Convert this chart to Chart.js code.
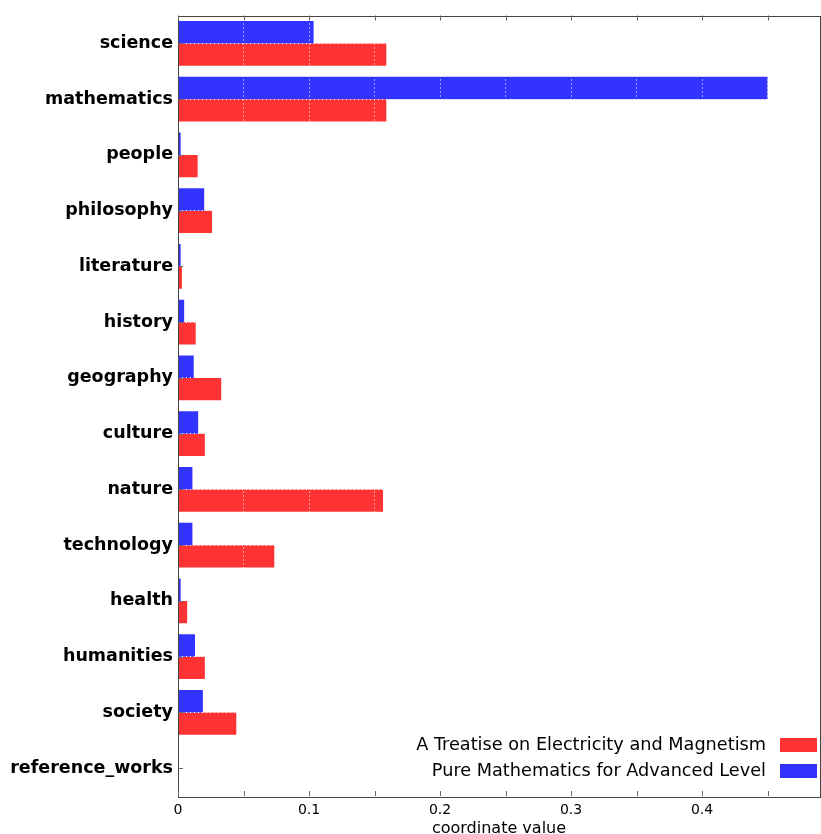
<!DOCTYPE html>
<html>
<head>
<meta charset="utf-8">
<script src="https://cdn.jsdelivr.net/npm/chart.js@4/dist/chart.umd.min.js"></script>
<style>
  html, body { margin: 0; padding: 0; background: #fff; }
  #wrap { width: 821px; height: 834px; }
</style>
</head>
<body>
<div id="wrap"><canvas id="topicChart"></canvas></div>
<script>
// Categories (top to bottom)
const categories = [
  "science", "mathematics", "people", "philosophy", "literature", "history",
  "geography", "culture", "nature", "technology", "health", "humanities",
  "society", "reference_works"
];

// A Treatise on Electricity and Magnetism
const treatiseValues = [
  0.159, 0.159, 0.015, 0.026, 0.003, 0.0135,
  0.033, 0.0205, 0.1565, 0.0735, 0.007, 0.0205,
  0.0445, 0
];

// Pure Mathematics for Advanced Level
const pureMathValues = [
  0.1035, 0.45, 0.002, 0.02, 0.002, 0.0047,
  0.012, 0.0154, 0.011, 0.011, 0.002, 0.013,
  0.019, 0
];

// x axis
const xMin = 0;
const xMax = 0.49;
const xStep = 0.05;

const redColor = "#ff3333";
const blueColor = "#3333ff";

// Frame, inward ticks and the legend in the lower right corner
const framePlugin = {
  id: "frame",
  afterDraw(chart) {
    const ctx = chart.ctx;
    const area = chart.chartArea;
    const x = chart.scales.x;
    const y = chart.scales.y;
    ctx.save();
    ctx.strokeStyle = "#444";
    ctx.lineWidth = 1;
    ctx.strokeRect(Math.round(area.left) + 0.5, Math.round(area.top) + 0.5,
      Math.round(area.right - area.left), Math.round(area.bottom - area.top));

    // ticks
    ctx.strokeStyle = "#666";
    ctx.beginPath();
    x.ticks.forEach(t => {
      const px = Math.round(x.getPixelForValue(t.value)) + 0.5;
      ctx.moveTo(px, area.bottom);
      ctx.lineTo(px, area.bottom - 5);
      ctx.moveTo(px, area.top);
      ctx.lineTo(px, area.top + 5);
    });
    categories.forEach((c, i) => {
      const py = Math.round(y.getPixelForValue(i)) + 0.5;
      ctx.moveTo(area.left, py);
      ctx.lineTo(area.left + 5, py);
    });
    ctx.stroke();

    // legend
    const items = [
      { text: chart.data.datasets[1].label, color: chart.data.datasets[1].backgroundColor },
      { text: chart.data.datasets[0].label, color: chart.data.datasets[0].backgroundColor }
    ];
    ctx.font = "17.7px 'DejaVu Sans'";
    ctx.textAlign = "right";
    ctx.textBaseline = "middle";
    items.forEach((it, i) => {
      const cy = area.bottom - 51 + i * 26;
      const boxRight = area.right - 3;
      ctx.fillStyle = it.color;
      ctx.fillRect(boxRight - 37, cy - 7, 37, 14);
      ctx.fillStyle = "#000";
      ctx.fillText(it.text, boxRight - 37 - 14, cy);
    });
    ctx.restore();
  }
};

new Chart(document.getElementById("topicChart"), {
  type: "bar",
  data: {
    labels: categories,
    datasets: [
      {
        label: "Pure Mathematics for Advanced Level",
        data: pureMathValues,
        backgroundColor: blueColor
      },
      {
        label: "A Treatise on Electricity and Magnetism",
        data: treatiseValues,
        backgroundColor: redColor
      }
    ]
  },
  options: {
    indexAxis: "y",
    responsive: true,
    maintainAspectRatio: false,
    animation: false,
    layout: { padding: { top: 15, right: 1, left: 0, bottom: 0 } },
    datasets: {
      bar: { categoryPercentage: 0.8, barPercentage: 1.0 }
    },
    plugins: {
      legend: { display: false },
      tooltip: { enabled: false }
    },
    scales: {
      x: {
        type: "linear",
        min: xMin,
        max: xMax,
        afterFit(scale) { scale.height = 38; },
        afterBuildTicks(scale) {
          scale.ticks = scale.ticks.filter(t => Math.abs(t.value / xStep - Math.round(t.value / xStep)) < 1e-6);
        },
        ticks: {
          stepSize: xStep,
          padding: 6,
          color: "#000",
          font: { family: "DejaVu Sans", size: 14 },
          maxRotation: 0,
          autoSkip: false,
          callback(value) {
            const r = Math.round(value * 10) / 10;
            return Math.abs(value - r) < 1e-6 ? String(r) : "";
          }
        },
        grid: { color: "#ffffff", lineWidth: 1, drawTicks: false, z: 1 },
        border: { display: false, dash: [1, 3] },
        title: {
          display: true,
          text: "coordinate value",
          color: "#000",
          font: { family: "DejaVu Sans", size: 16, lineHeight: 0.65 },
          padding: 0
        }
      },
      y: {
        afterFit(scale) { scale.width = 178; },
        ticks: {
          padding: 5,
          color: "#000",
          font: { family: "DejaVu Sans", size: 17.5, weight: "bold" },
          autoSkip: false
        },
        grid: { color: "#ffffff", lineWidth: 1, drawTicks: false, offset: false, z: 1 },
        border: { display: false, dash: [1, 3] }
      }
    }
  },
  plugins: [framePlugin]
});
</script>
</body>
</html>
